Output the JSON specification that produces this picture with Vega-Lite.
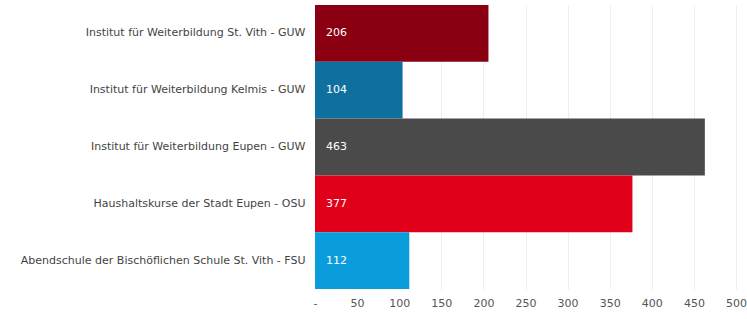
{
  "$schema": "https://vega.github.io/schema/vega-lite/v6.json",
  "width": 421,
  "height": 284,
  "autosize": {"type": "none"},
  "padding": {"left": 315, "top": 5, "right": 11, "bottom": 30},
  "background": "white",
  "config": {"view": {"stroke": null}, "font": "DejaVu Sans"},
  "data": {
    "values": [
      {"name": "Institut für Weiterbildung St. Vith - GUW", "value": 206, "color": "#8a0012"},
      {"name": "Institut für Weiterbildung Kelmis -  GUW", "value": 104, "color": "#0f70a0"},
      {"name": "Institut für Weiterbildung Eupen - GUW", "value": 463, "color": "#4a4a4a"},
      {"name": "Haushaltskurse der Stadt Eupen - OSU", "value": 377, "color": "#e1001a"},
      {"name": "Abendschule der Bischöflichen Schule St. Vith - FSU", "value": 112, "color": "#0a9ddc"}
    ]
  },
  "encoding": {
    "y": {
      "field": "name",
      "type": "nominal",
      "sort": null,
      "scale": {"paddingInner": 0, "paddingOuter": 0},
      "axis": {
        "title": null,
        "domain": false,
        "ticks": false,
        "labelPadding": 10,
        "labelFontSize": 11,
        "labelColor": "#444",
        "labelLimit": 320
      }
    }
  },
  "layer": [
    {
      "mark": {"type": "bar"},
      "encoding": {
        "x": {
          "field": "value",
          "type": "quantitative",
          "scale": {"domain": [0, 500], "nice": false},
          "axis": {
            "title": null,
            "domain": false,
            "ticks": false,
            "values": [0, 50, 100, 150, 200, 250, 300, 350, 400, 450, 500],
            "labelExpr": "datum.value == 0 ? '-' : datum.label",
            "labelFontSize": 11,
            "labelColor": "#555",
            "labelPadding": 8,
            "grid": true,
            "gridColor": "#eeeeee",
            "labelFlush": false
          }
        },
        "color": {"field": "color", "type": "nominal", "scale": null}
      }
    },
    {
      "mark": {"type": "text", "align": "left", "dx": 11, "color": "white", "fontSize": 11, "baseline": "middle"},
      "encoding": {
        "x": {"datum": 0, "type": "quantitative"},
        "text": {"field": "value", "type": "quantitative"}
      }
    }
  ]
}
